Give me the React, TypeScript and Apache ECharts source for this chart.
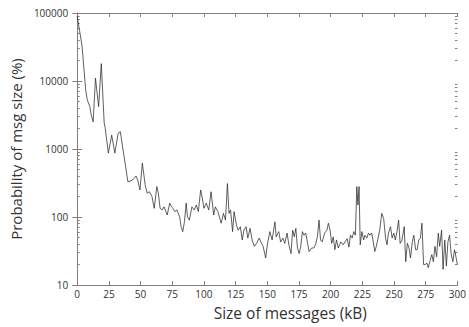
import React, { useEffect, useRef } from "react";
import * as echarts from "echarts";

// Size of messages (kB)
const sizes: number[] = [
  0, 1.8, 3.8, 6.7, 7.9, 10, 11, 12.6, 14.4, 16.9, 19, 21.3, 22, 24.6, 27.2, 29.7, 32.3, 34, 37.4,
  40, 42.5, 45, 46.4, 47.7, 49.5, 51.4, 53.7, 55.2, 57, 59, 60.8, 62.8, 64, 65.4, 67, 68.5, 70, 71,
  73, 74.4, 75.6, 77, 78.7, 80.8, 82, 83.3, 84.6, 86, 87, 88.5, 90.5, 92.3, 94, 95.6, 97.4, 98.7,
  100, 101.8, 103.8, 105.6, 107.7, 109, 111, 113.6, 115.4, 117, 118.5, 119.8, 121, 122.6, 123.8,
  125.6, 127, 128.7, 130.2, 131.5, 133.3, 134.6, 136.4, 138, 139.8, 141.5, 143.6, 144.9, 146.7,
  148.7, 150, 152, 153.8, 156, 157, 159, 160.5, 162.3, 163.8, 165.6, 167, 168.7, 170, 171.3, 172.5,
  173.8, 175.1, 176.4, 177.7, 179, 180.3, 181.8, 183, 184.9, 186.7, 188, 189.5, 190.8, 192, 193.3,
  195.2, 197, 198.2, 199.5, 200.8, 202, 203.3, 204.6, 206, 208, 209.8, 211.3, 213, 214.4, 215.6,
  217, 218.2, 219.5, 220.6, 221.5, 222.4, 223.3, 224.6, 226, 227, 228.5, 229.8, 231, 232.3, 233.6,
  234.8, 236, 238.7, 240.3, 241.8, 243.3, 244.4, 245.6, 247.2, 248.5, 249.8, 251, 252.3, 253.6,
  254.8, 256.2, 258, 259.2, 260.5, 261.8, 263, 264.4, 265.6, 267, 268.2, 269.5, 270.8, 272, 273.3,
  274.6, 275.9, 277, 278.5, 279.8, 281, 282.3, 283.6, 284.9, 286, 287.5, 288.7, 290, 291.3, 292.5,
  293.8, 295, 296.4, 297.7, 299, 300,
];

// Probability of msg size (%)
const probs: number[] = [
  90000, 56000, 33000, 7400, 5300, 4200, 3200, 2500, 11000, 4200, 18000, 2400, 2100, 870, 1600, 870, 1700, 1800, 690,
  330, 340, 370, 400, 350, 250, 620, 290, 225, 235, 200, 134, 280, 225, 134, 127, 141, 120, 107,
  160, 141, 134, 120, 127, 101, 72, 61, 85, 160, 101, 90, 141, 127, 150, 120, 250, 190,
  134, 160, 127, 235, 107, 141, 120, 81, 113, 90, 310, 113, 127, 61, 120,
  76, 64, 72, 46, 64, 72, 49, 68, 46, 37, 41, 49, 43, 37,
  25, 39, 61, 46, 85, 51, 61, 43, 49, 41, 58, 39, 29, 64, 51, 68,
  35, 29, 37, 61, 54, 58, 41, 31, 35, 35, 39, 51, 90, 46, 43,
  58, 64, 81, 64, 41, 51, 33, 46, 35, 43, 39, 43, 48, 36, 54,
  49, 61, 54, 280, 150, 280, 39, 61, 46, 54, 49, 58, 54, 58, 43,
  31, 37, 64, 113, 95, 49, 39, 58, 72, 49, 58, 46, 61, 90,
  41, 45, 72, 22, 41, 35, 25, 43, 54, 33, 33, 46, 49, 81, 20,
  20, 21, 18, 23, 28, 22, 37, 26, 58, 37, 64, 17, 46, 19, 43,
  54, 29, 22, 33, 25, 20,
];

const xTicks: number[] = [0, 25, 50, 75, 100, 125, 150, 175, 200, 225, 250, 275, 300];
const yTicks: number[] = [10, 100, 1000, 10000, 100000];

const minorValues: number[] = [];
for (let d = 10; d < 100000; d *= 10) {
  for (let m = 2; m <= 9; m++) minorValues.push(d * m);
}

const AXIS_COLOR = "#808080";
const TEXT_COLOR = "#333333";
const FONT = "'Open Sans', 'Noto Sans', sans-serif";

export default function App() {
  const ref = useRef<HTMLDivElement>(null);
  useEffect(() => {
    if (!ref.current) return;
    const chart = echarts.init(ref.current, undefined, { renderer: "svg" });
    const data = sizes.map((s, i) => [s, probs[i]]);
    const baseY = {
      type: "log" as const,
      logBase: 10,
      min: 10,
      max: 100000,
      splitLine: { show: false },
    };
    chart.setOption({
      animation: false,
      grid: { left: 73, right: 6, top: 13, bottom: 42, containLabel: false },
      xAxis: [
        {
          type: "value",
          position: "bottom",
          min: 0,
          max: 300,
          interval: 25,
          name: "Size of messages (kB)",
          nameLocation: "middle",
          nameGap: 20,
          nameTextStyle: { fontFamily: FONT, fontSize: 15.5, color: TEXT_COLOR, padding: [0, 0, 0, 46] },
          axisLine: { show: true, lineStyle: { color: AXIS_COLOR, width: 1 } },
          axisTick: { show: true, inside: true, length: 4, lineStyle: { color: AXIS_COLOR } },
          axisLabel: {
            fontFamily: FONT,
            fontSize: 10,
            color: TEXT_COLOR,
            margin: 4,
            customValues: xTicks,
            formatter: (v: number) => String(v),
          },
          splitLine: { show: false },
        },
        {
          type: "value",
          position: "top",
          min: 0,
          max: 300,
          interval: 25,
          axisLine: { show: true, lineStyle: { color: AXIS_COLOR, width: 1 } },
          axisTick: { show: true, inside: true, length: 4, lineStyle: { color: AXIS_COLOR } },
          axisLabel: { show: false },
          splitLine: { show: false },
        },
      ],
      yAxis: [
        {
          ...baseY,
          position: "left",
          name: "Probability of msg size (%)",
          nameLocation: "middle",
          nameGap: 49,
          nameTextStyle: { fontFamily: FONT, fontSize: 15, color: TEXT_COLOR },
          axisLine: { show: true, lineStyle: { color: AXIS_COLOR, width: 1 } },
          axisTick: { show: true, inside: true, length: 5, lineStyle: { color: AXIS_COLOR } },
          axisLabel: {
            fontFamily: FONT,
            fontSize: 10,
            color: TEXT_COLOR,
            margin: 9,
            customValues: yTicks,
            formatter: (v: number) => String(Math.round(v)),
          },
        },
        {
          ...baseY,
          position: "right",
          axisLine: { show: true, lineStyle: { color: AXIS_COLOR, width: 1 } },
          axisTick: { show: true, inside: true, length: 5, lineStyle: { color: AXIS_COLOR } },
          axisLabel: { show: false },
        },
        {
          ...baseY,
          position: "left",
          axisLine: { show: false },
          axisTick: { show: true, inside: true, length: 2.5, customValues: minorValues, lineStyle: { color: AXIS_COLOR } },
          axisLabel: { show: false, customValues: minorValues },
        },
        {
          ...baseY,
          position: "right",
          axisLine: { show: false },
          axisTick: { show: true, inside: true, length: 2.5, customValues: minorValues, lineStyle: { color: AXIS_COLOR } },
          axisLabel: { show: false, customValues: minorValues },
        },
      ],
      series: [
        {
          type: "line",
          xAxisIndex: 0,
          yAxisIndex: 0,
          data,
          showSymbol: false,
          symbol: "none",
          lineStyle: { color: "#2a2a2a", width: 0.75 },
          silent: true,
        },
      ],
    });
    return () => chart.dispose();
  }, []);
  return (
    <div
      ref={ref}
      style={{ position: "fixed", left: 0, top: 0, width: 469, height: 327, background: "#fff" }}
    />
  );
}
